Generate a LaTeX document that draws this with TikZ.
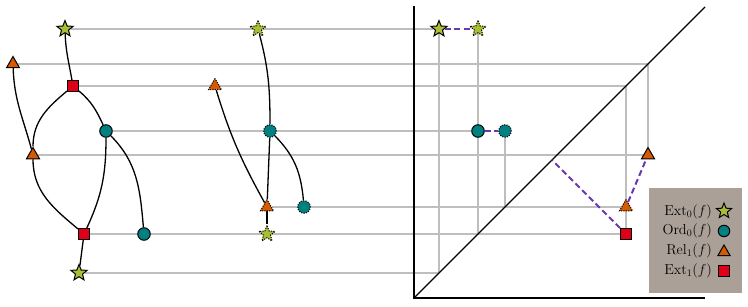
\documentclass[tikz,border=0pt]{standalone}
\usepackage{amsmath,amssymb}
\usepackage{tikz}
\usetikzlibrary{positioning, backgrounds, shapes.geometric}

\definecolor{extcol}{RGB}{169,189,54}
\definecolor{ordcol}{RGB}{0,128,128}
\definecolor{relcol}{RGB}{214,90,0}
\definecolor{sqcol}{RGB}{221,0,22}
\definecolor{matchcol}{RGB}{105,55,175}
\definecolor{gridcol}{RGB}{190,190,190}
\definecolor{keycol}{RGB}{170,160,152}

\begin{document}
\begin{tikzpicture}[x=1pt, y=1pt,
      pt/.style={draw, line width=1pt, inner sep=0pt},
      ext0/.style={pt, star, star points=5, star point ratio=2.3,
                   minimum size=17pt, fill=extcol},
      ord0/.style={pt, circle, minimum size=12.5pt, fill=ordcol},
      rel1/.style={pt, regular polygon, regular polygon sides=3,
                   minimum size=15pt, fill=relcol},
      ext1/.style={pt, rectangle, minimum size=11pt, fill=sqcol},
      ghost/.style={dash pattern=on 1.2pt off 1.2pt},
      arc/.style={line width=1.3pt, black},
      grid/.style={line width=1.4pt, gridcol},
      match/.style={line width=2pt, matchcol, dash pattern=on 6pt off 3.5pt},
      axis/.style={line width=1.3pt, black},
      key/.style={font=\fontsize{14}{16}\selectfont, anchor=east, inner sep=0pt}]

    \useasboundingbox (0,0) rectangle (748,306);

    % ===== merge tree of f =====
    \node[ext0] (s1) at (65,277) {};
    \node[rel1] (t1) at (13,242) {};
    \node[ext1] (q1) at (73,220) {};
    \node[ord0] (c1) at (106,175) {};
    \node[rel1] (t2) at (33,151) {};
    \node[ext1] (q2) at (84,72) {};
    \node[ord0] (c2) at (144,72) {};
    \node[ext0] (s2) at (79,33) {};

    \draw[arc] (s1) to[out=-88, in=100] (q1);
    \draw[arc] (t1) to[out=-88, in=105] (t2);
    \draw[arc] (q1) to[out=-140, in=90] (t2);
    \draw[arc] (t2) to[out=-90, in=140] (q2);
    \draw[arc] (q1) to[out=-40, in=115] (c1);
    \draw[arc] (c1) to[out=-90, in=65] (q2);
    \draw[arc] (c1) to[out=-45, in=95] (c2);
    \draw[arc] (q2) -- (s2);

    % ===== merge tree of g (dotted) =====
    \node[ext0, ghost] (s3) at (258,277) {};
    \node[rel1, ghost] (t3) at (215,220) {};
    \node[ord0, ghost] (c3) at (270,175) {};
    \node[rel1, ghost] (t4) at (267,99) {};
    \node[ord0, ghost] (c4) at (304,99) {};
    \node[ext0, ghost] (s4) at (267,72) {};

    \draw[arc] (s3) to[out=-75, in=90] (c3);
    \draw[arc] (t3) to[out=-73, in=119] (t4);
    \draw[arc] (c3) -- (t4);
    \draw[arc] (c3) to[out=-45, in=95] (c4);
    \draw[arc] (t4) -- (s4);

    % ===== persistence diagram =====
    \coordinate (o) at (414,8);
    \coordinate (xend) at (705,8);
    \coordinate (yend) at (414,300);
    \coordinate (dend) at (705,299);
    \draw[axis] (yend) -- (o) -- (xend);
    \draw[axis] (o) -- (dend);

    \coordinate (dg33) at (439,33);
    \coordinate (dg72) at (478,72);
    \coordinate (dg99) at (505,99);
    \coordinate (dg220) at (626,220);
    \coordinate (dg242) at (648,242);
    \coordinate (dproj) at (552,146);

    \node[ext0] (ps1) at (439,277) {};
    \node[ext0, ghost] (ps3) at (478,277) {};
    \node[ord0] (pc1) at (478,175) {};
    \node[ord0, ghost] (pc3) at (505,175) {};
    \node[rel1] (pt1) at (648,151) {};
    \node[rel1, ghost] (pt4) at (626,99) {};
    \node[ext1] (pq2) at (626,72) {};

    \begin{scope}[on background layer]
      % levels
      \draw[grid] (s1) -- (ps1);
      \draw[grid] (t1) -- (dg242);
      \draw[grid] (q1) -- (dg220);
      \draw[grid] (c1) -- (pc1);
      \draw[grid] (t2) -- (pt1);
      \draw[grid] (t4) -- (pt4);
      \draw[grid] (q2) -- (pq2);
      \draw[grid] (s2) -- (dg33);
      % down to the diagonal
      \draw[grid] (ps1) -- (dg33);
      \draw[grid] (ps3) -- (dg72);
      \draw[grid] (pc3) -- (dg99);
      \draw[grid] (pq2) -- (dg220);
      \draw[grid] (pt1) -- (dg242);
    \end{scope}

    % matching
    \draw[match] (ps1) -- (ps3);
    \draw[match] (pc1) -- (pc3);
    \draw[match] (pt4) -- (pt1);
    \draw[match] (pq2) -- (dproj);

    % ===== legend =====
    \node[fill=keycol, minimum width=93pt, minimum height=105pt,
          anchor=north west, inner sep=0pt] (legend) at (649,118) {};
    \node[key] (k1) at (712,94) {$\mathrm{Ext}_0(f)$};
    \node[key] (k2) at (712,75) {$\mathrm{Ord}_0(f)$};
    \node[key] (k3) at (712,55) {$\mathrm{Rel}_1(f)$};
    \node[key] (k4) at (712,35) {$\mathrm{Ext}_1(f)$};
    \node[ext0, minimum size=16pt] (m1) at (724,95) {};
    \node[ord0, minimum size=11.5pt] (m2) at (724,75) {};
    \node[rel1, minimum size=14pt] (m3) at (724,54) {};
    \node[ext1, minimum size=10.5pt] (m4) at (724,35) {};

\end{tikzpicture}
\end{document}
